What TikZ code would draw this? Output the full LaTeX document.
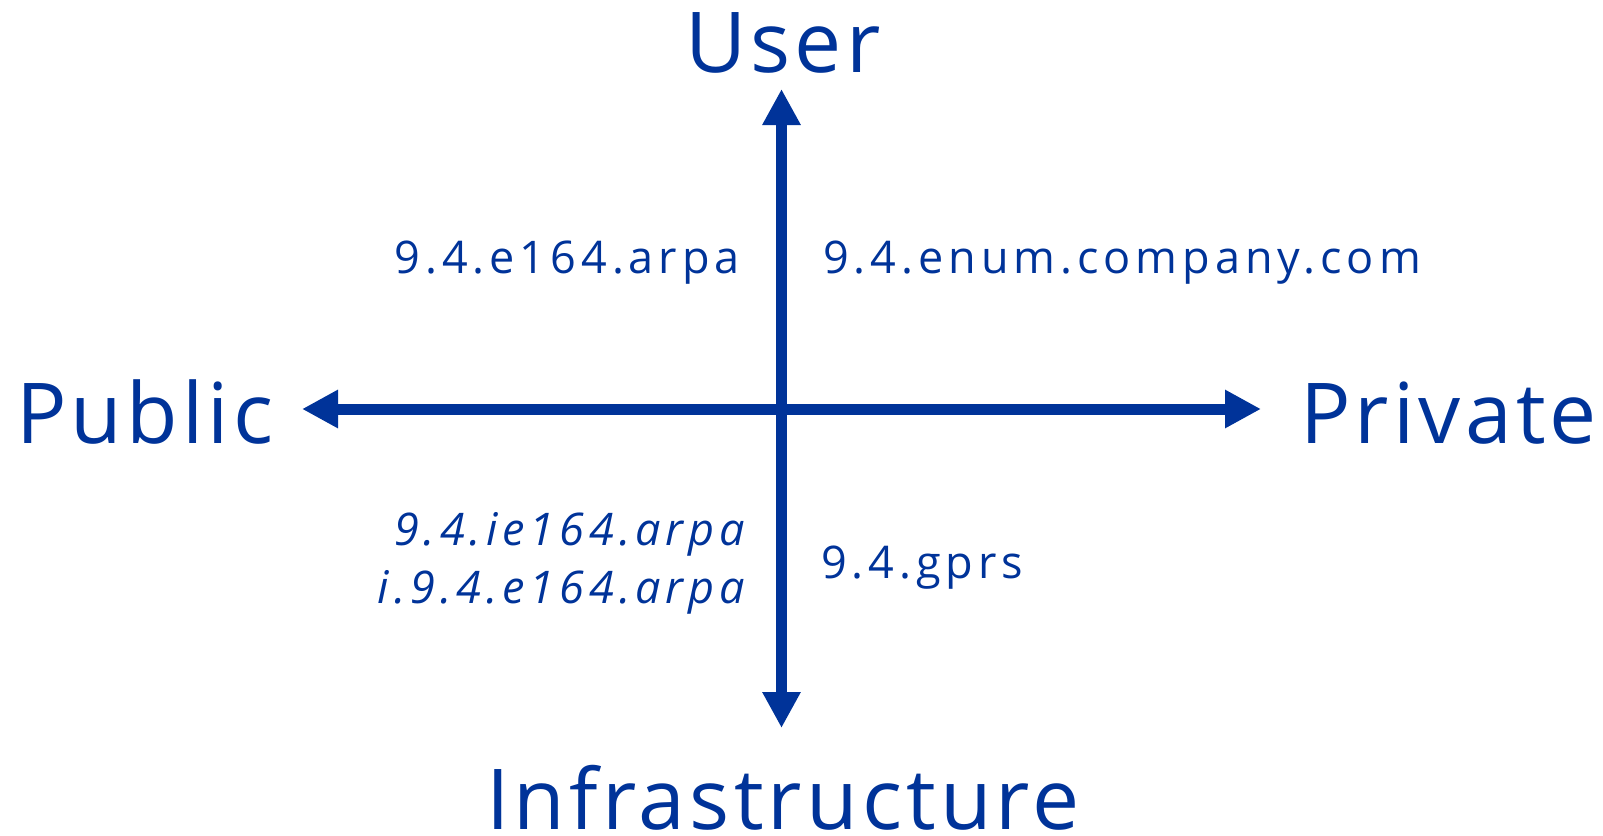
\documentclass[tikz,border=0pt]{standalone}
\usepackage{fontspec}
\setmainfont{Open Sans}
\newfontfamily\bigfamily{Open Sans}[LetterSpace=5]
\newfontfamily\smallfamily{Open Sans}[LetterSpace=11]
\usetikzlibrary{arrows.meta}
\definecolor{axisblue}{RGB}{0,51,153}
\tikzset{
  axis/.style={draw=axisblue, line width=11pt, {Triangle[length=36pt,width=36pt]}-{Triangle[length=36pt,width=36pt]}},
  biglabel/.style={text=axisblue, inner sep=0pt, text depth=0pt, font=\bigfamily\fontsize{84}{90}\selectfont},
  smalllabel/.style={text=axisblue, inner sep=0pt, font=\smallfamily\fontsize{45}{50}\selectfont},
}
\begin{document}
\begin{tikzpicture}[x=1pt,y=-1pt]
\useasboundingbox (0,0) rectangle (1603,835);
\coordinate (top) at (781.5,89);
\coordinate (bottom) at (781.5,728);
\coordinate (left) at (302,409);
\coordinate (right) at (1261,409);
\draw[axis] (bottom) -- (top);
\draw[axis] (left) -- (right);
\node[biglabel, anchor=base] (user) at (783,72) {User};
\node[biglabel, anchor=base west] (public) at (16,443) {Public};
\node[biglabel, anchor=base west] (private) at (1300,443) {Private};
\node[biglabel, anchor=base] (infra) at (783,829) {Infrastructure};
\node[smalllabel, anchor=base east] (e164) at (740,273) {9.4.e164.arpa};
\node[smalllabel, anchor=base west] (enum) at (823,273) {9.4.enum.company.com};
\node[smalllabel, anchor=base east] (ie164) at (745,545) {\itshape 9.4.ie164.arpa};
\node[smalllabel, anchor=base east] (ie164b) at (745,603) {\itshape i.9.4.e164.arpa};
\node[smalllabel, anchor=base west] (gprs) at (821,578) {9.4.gprs};
\end{tikzpicture}
\end{document}
